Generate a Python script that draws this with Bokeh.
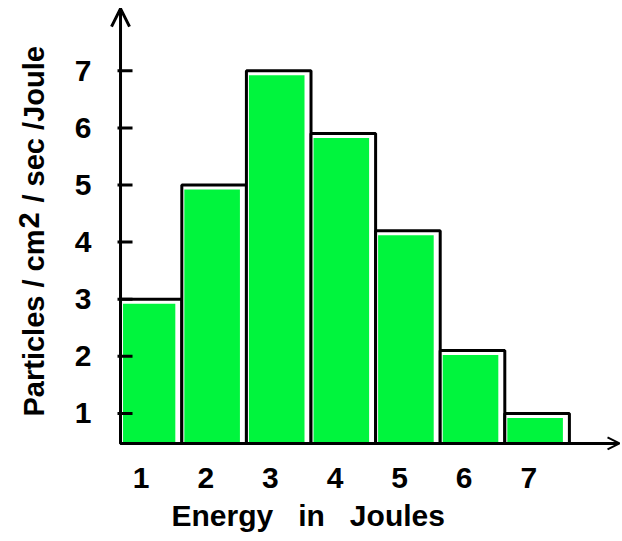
import math
from bokeh.plotting import figure
from bokeh.layouts import row
from bokeh.models import Range1d, FixedTicker, Label, Arrow, OpenHead, Title
from bokeh.embed import file_html
from bokeh.resources import INLINE

# ---- data ----
energy = [1, 2, 3, 4, 5, 6, 7]
particles = [3.0, 5.0, 7.0, 5.9, 4.2, 2.1, 1.0]
x_ticks = [1, 2, 3, 4, 5, 6, 7]
x_tick_labels = ["1", "2", "3", "4", "5", "6", "7"]
y_ticks = [1, 2, 3, 4, 5, 6, 7]
y_tick_labels = ["1", "2", "3", "4", "5", "6", "7"]

# ---- layout / style constants ----
H = 541
BOTTOM = 89                  # space below the plotting frame
FRAME_H = H - BOTTOM
LW = 64                      # width of the strip holding the y title
MW = 622 - LW                # main figure width
X_START, X_END = 0.334, 8.322
Y_START, Y_END = 0.315, 8.231
AXIS_X, AXIS_Y = 0.551, 0.473   # where the drawn axes cross
X_TIP, Y_TIP = 8.276, 8.09
PX_X = 1 / 64.6              # one pixel in data units
PX_Y = 1 / 57.1
FONT = "Liberation Sans"
GREEN = "#00f53d"
NB = "\u00a0"

# ---------------- main chart ----------------
m = figure(width=MW, height=H, x_range=Range1d(X_START, X_END), y_range=Range1d(Y_START, Y_END),
           output_backend="svg", toolbar_location=None,
           min_border_left=42, min_border_right=0, min_border_top=0, min_border_bottom=BOTTOM,
           background_fill_color="white", border_fill_color="white")
m.outline_line_color = None
m.grid.visible = False

left = [max(e - 0.5, AXIS_X) for e in energy]
right = [e + 0.5 for e in energy]
m.quad(left=left, right=right, top=particles, bottom=AXIS_Y,
       fill_color="white", line_color="black", line_width=3)
m.quad(left=[l + 2.5 * PX_X for l in left], right=[r - 6.5 * PX_X for r in right],
       top=[v - 4.5 * PX_Y for v in particles], bottom=AXIS_Y,
       fill_color=GREEN, line_color=None)

# y tick marks (short, mostly inside)
m.segment(x0=[AXIS_X - 3 * PX_X] * len(y_ticks), x1=[AXIS_X + 12 * PX_X] * len(y_ticks),
          y0=y_ticks, y1=y_ticks, line_color="black", line_width=3)

# axis lines with arrow heads
m.add_layout(Arrow(end=OpenHead(size=18, line_width=3, line_color="black"),
                   x_start=AXIS_X, y_start=AXIS_Y, x_end=AXIS_X, y_end=Y_TIP,
                   line_width=3, line_color="black"))
m.add_layout(Arrow(end=OpenHead(size=12, line_width=2, line_color="black"),
                   x_start=AXIS_X, y_start=AXIS_Y, x_end=X_TIP, y_end=AXIS_Y,
                   line_width=3, line_color="black"))

# x axis (labels only) - labels sit slightly left of the bar centres
xa = m.xaxis[0]
xa.ticker = FixedTicker(ticks=x_ticks)
xa.major_label_overrides = {t: l + "  " for t, l in zip(x_ticks, x_tick_labels)}
xa.axis_line_color = None
xa.major_tick_line_color = None
xa.minor_tick_line_color = None
xa.major_tick_in = 0
xa.major_tick_out = 0
xa.major_label_text_font = FONT
xa.major_label_text_font_style = "bold"
xa.major_label_text_font_size = "30px"
xa.major_label_text_color = "black"
xa.major_label_standoff = 8

# y axis (labels only)
ya = m.yaxis[0]
ya.ticker = FixedTicker(ticks=y_ticks)
ya.major_label_overrides = {t: l for t, l in zip(y_ticks, y_tick_labels)}
ya.axis_line_color = None
ya.major_tick_line_color = None
ya.minor_tick_line_color = None
ya.major_tick_in = 0
ya.major_tick_out = 0
ya.major_label_text_font = FONT
ya.major_label_text_font_style = "bold"
ya.major_label_text_font_size = "30px"
ya.major_label_text_color = "black"
ya.major_label_standoff = 15

# x axis title
m.add_layout(Title(text="Energy " + NB + NB + "in " + NB + NB + "Joules", align="left",
                   offset=65, standoff=0,
                   text_font=FONT, text_font_style="bold", text_font_size="30px",
                   text_color="black"), "below")

# ---------------- y title strip ----------------
t = figure(width=LW, height=H, x_range=Range1d(0, LW), y_range=Range1d(0, FRAME_H),
           x_axis_type=None, y_axis_type=None,
           output_backend="svg", toolbar_location=None,
           min_border_left=0, min_border_right=0, min_border_top=0, min_border_bottom=BOTTOM,
           background_fill_color="white", border_fill_color="white")
t.outline_line_color = None
t.grid.visible = False

common = dict(angle=math.pi / 2, text_font=FONT, text_font_style="bold", text_color="black",
              text_align="left", text_baseline="alphabetic", text_font_size="29px")
t.add_layout(Label(x=33, y=36, text="Particles / cm", **common))
t.add_layout(Label(x=28, y=224, text="2", **common))
t.add_layout(Label(x=33, y=250, text="/ sec /Joule", **common))

layout = row(t, m)
open("out.html", "w").write(file_html(layout, INLINE))
